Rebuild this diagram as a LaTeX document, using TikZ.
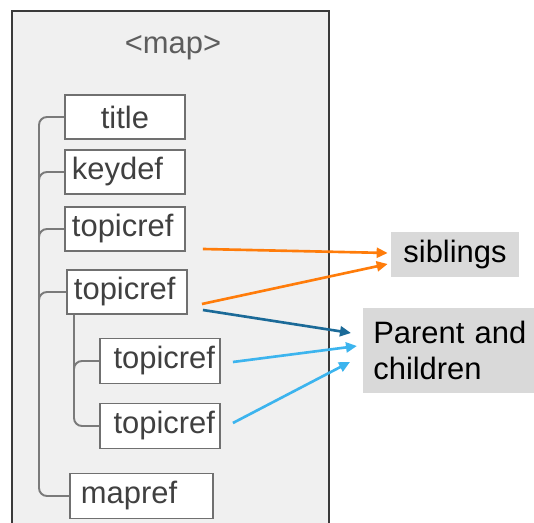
\documentclass[tikz,border=0pt]{standalone}
\usepackage{fontspec}
\setmainfont{Liberation Sans}
\usetikzlibrary{arrows.meta,positioning}
\definecolor{framegray}{HTML}{f0f0f0}
\definecolor{frameline}{HTML}{3a3a3a}
\definecolor{boxline}{HTML}{707070}
\definecolor{boxtext}{HTML}{404040}
\definecolor{treegray}{HTML}{7a7a7a}
\definecolor{labelgray}{HTML}{d9d9d9}
\definecolor{siborange}{HTML}{ff7c0a}
\definecolor{pardarkblue}{HTML}{1b6a98}
\definecolor{childblue}{HTML}{3cb4ee}

\begin{document}
\begin{tikzpicture}[
  x=0.02cm, y=-0.02cm,
  font=\fontsize{17.6}{20}\selectfont,
  mapbox/.style={rectangle, draw=frameline, line width=1.2pt, fill=framegray,
                 anchor=north west, minimum width=6.34cm, minimum height=10.8cm},
  elbox/.style={rectangle, draw=boxline, line width=1.1pt, fill=white,
                text=boxtext, anchor=west, minimum height=0.88cm,
                inner xsep=0.14cm, text width=2.12cm, align=left},
  labbox/.style={rectangle, fill=labelgray, text=black},
  treeline/.style={draw=treegray, line width=1.1pt, rounded corners=0.16cm},
  linkarrow/.style={-{Triangle[length=0.22cm, width=0.2cm]}, line width=1.5pt},
  >=Latex
]
\useasboundingbox (0,0) rectangle (534,523);

% ---- The map frame ----------------------------------------------------------
\node[mapbox] (mapframe) at (11,10) {};
\node[text=boxtext!85] (maplabel) at (173,48) {<map>};

% ---- Elements of the map ----------------------------------------------------
\node[elbox, align=center] (title) at (64,117) {title};
\node[elbox] (keydef) at (64,172) {keydef};
\node[elbox] (topicone) at (64,229) {topicref};
\node[elbox] (topictwo) at (66,292) {topicref};
\node[elbox, inner xsep=0.1cm, text width=2.2cm, align=right,
      minimum height=0.9cm] (childone) at (99,361) {topicref};
\node[elbox, inner xsep=0.1cm, text width=2.2cm, align=right,
      minimum height=0.9cm] (childtwo) at (99,426) {topicref};
\node[elbox, inner xsep=0.22cm, text width=2.42cm,
      minimum height=0.9cm] (mapref) at (69,496) {mapref};

% ---- Tree lines -------------------------------------------------------------
\coordinate (trunk) at (39,0);
\coordinate (subtrunk) at (74,0);

\draw[treeline] (title.west) -| (trunk |- mapref.west) -- (mapref.west);
\draw[treeline] (keydef.west) -| ([yshift=-0.3cm]trunk |- keydef.west);
\draw[treeline] (topicone.west) -| ([yshift=-0.3cm]trunk |- topicone.west);
\draw[treeline] (topictwo.west) -| ([yshift=-0.3cm]trunk |- topictwo.west);

\draw[treeline] (subtrunk |- topictwo.south) |- (childtwo.west);
\draw[treeline] (childone.west) -| ([yshift=-0.3cm]subtrunk |- childone.west);

% ---- Relation labels --------------------------------------------------------
\node[labbox, minimum width=2.56cm, minimum height=0.9cm] (siblings)
  at (455,254.5) {siblings};
\node[labbox, anchor=west, text width=3.2cm, inner xsep=0.2cm,
      minimum height=1.7cm, align=left] (parent) at (363,350.5)
  {Parent and\\children};

% ---- Links ------------------------------------------------------------------
\draw[linkarrow, siborange] ([shift={(17,20)}]topicone.east)
  -- ([shift={(-3,-1.5)}]siblings.west);
\draw[linkarrow, siborange] ([shift={(14,12)}]topictwo.east)
  -- ([shift={(-3,9.5)}]siblings.west);
\draw[linkarrow, pardarkblue] ([shift={(15,18)}]topictwo.east)
  -- ([shift={(-12,-17.5)}]parent.west);
\draw[linkarrow, childblue] ([shift={(12,1)}]childone.east)
  -- ([shift={(-6,-4.5)}]parent.west);
\draw[linkarrow, childblue] ([shift={(12,-3)}]childtwo.east)
  -- ([shift={(-13,11.5)}]parent.west);

\end{tikzpicture}
\end{document}
